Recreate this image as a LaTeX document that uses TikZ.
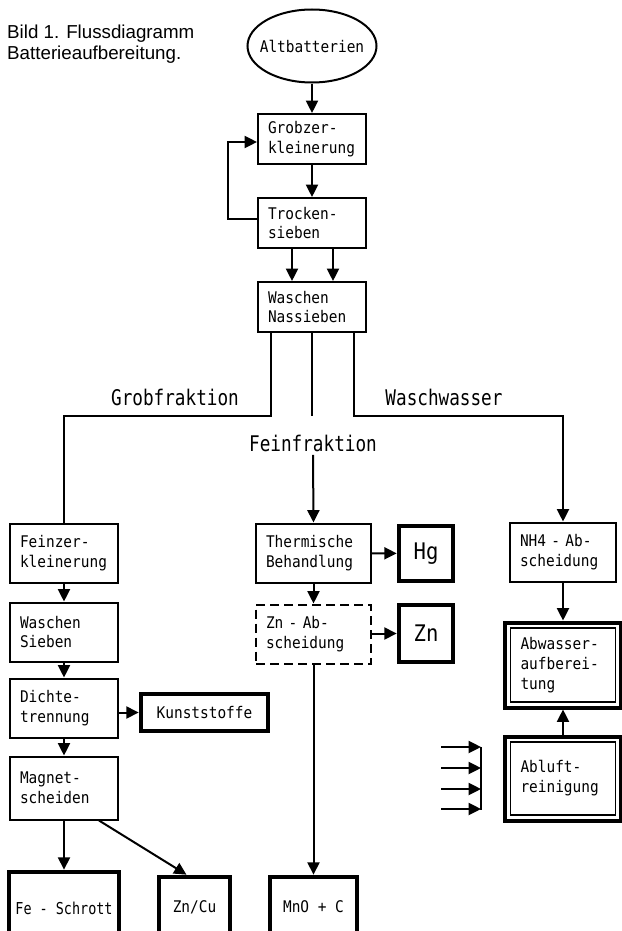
\documentclass[tikz,border=0pt]{standalone}
\usepackage{fontspec}
\usetikzlibrary{arrows.meta}
\usetikzlibrary{positioning}
\usetikzlibrary{shapes.geometric}
\newfontfamily\boxfont{DejaVu Sans Mono}[FakeStretch=0.9]
\newfontfamily\lblfont{DejaVu Sans Mono}[FakeStretch=0.82]
\newfontfamily\titlefont{Liberation Sans}

\begin{document}
\begin{tikzpicture}[x=0.3mm, y=-0.3mm,
  box/.style={draw, line width=0.6mm, align=left, text width=#1, inner xsep=3mm, inner ysep=0pt, minimum height=17.7mm, font=\boxfont\fontsize{13.7}{17}\selectfont},
  box/.default=26.4mm,
  res/.style={draw, line width=1.4mm, inner sep=0pt, align=center, font=\boxfont\fontsize{13.7}{17}\selectfont},
  dbl/.style={draw, line width=1.2mm, minimum width=34.8mm, inner sep=0pt},
  arr/.style={-{Triangle[length=3.7mm, width=3.6mm]}, line width=0.6mm},
  ln/.style={line width=0.6mm},
  lbl/.style={font=\lblfont\fontsize{18.4}{22}\selectfont, inner sep=1mm}
]

\useasboundingbox (0,0) rectangle (622,931);
\clip (0,0) rectangle (622,931);

%title
\node[anchor=north west, align=left, inner sep=0pt, font=\titlefont\fontsize{16}{18}\selectfont] (title) at (7,25) {Bild 1. Flussdiagramm\\Batterieaufbereitung.};

%top
\node[ellipse, draw, line width=0.6mm, minimum width=38.7mm, minimum height=21.9mm, inner sep=0pt, font=\boxfont\fontsize{13.7}{17}\selectfont] (alt) at (312,46) {\makebox[0pt]{Altbatterien}};
\node[box, minimum height=15mm] (grob) at (312,139) {Grobzer-\\kleinerung};
\node[box, minimum height=15mm] (trock) at (312,223) {Trocken-\\sieben};
\node[box, minimum height=15mm] (wasch) at (312,307) {Waschen\\Nassieben};

%left column
\node[box] (feinz) at (64,553) {Feinzer-\\kleinerung};
\node[box] (wsieb) at (64,632) {Waschen\\Sieben};
\node[box] (dichte) at (64,708) {Dichte-\\trennung};
\node[box, minimum height=18.9mm] (magnet) at (64,788) {Magnet-\\scheiden};

%middle column
\node[box=28.5mm] (therm) at (313.5,553) {Thermische\\Behandlung};
\node[box=28.5mm, dash pattern=on 2.7mm off 1.5mm] (znab) at (313.5,634) {Zn - Ab-\\scheidung};

%right column
\node[box=25.8mm] (nh4) at (563,552) {NH4 - Ab-\\scheidung};
\node[dbl, minimum height=25.5mm] (abw) at (563,665) {};
\node[box=25.5mm, line width=0.4mm, minimum height=22.2mm] (abwi) at (abw) {Abwasser-\\aufberei-\\tung};
\node[dbl, minimum height=25.2mm] (abl) at (563,778.5) {};
\node[box=25.5mm, line width=0.4mm, minimum height=21.9mm] (abli) at (abl) {Abluft-\\reinigung};

%products
\node[res, minimum width=16.2mm, minimum height=16.5mm, font=\boxfont\fontsize{19.5}{22}\selectfont] (hg) at (426,553.5) {Hg};
\node[res, minimum width=16.2mm, minimum height=17.1mm, font=\boxfont\fontsize{19.5}{22}\selectfont] (zn) at (426,633.5) {Zn};
\node[res, minimum width=38.1mm, minimum height=11.1mm] (kunst) at (204.5,712.5) {Kunststoffe};
\node[res, minimum width=33mm, minimum height=21.9mm, font=\lblfont\fontsize{14}{17}\selectfont] (fe) at (64,908.5) {Fe - Schrott};
\node[res, minimum width=21.3mm, minimum height=18mm] (zncu) at (194.5,907) {Zn/Cu};
\node[res, minimum width=26.1mm, minimum height=18mm] (mno) at (313.5,907) {MnO + C};

%labels
\node[lbl] (grobfr) at (175,397) {Grobfraktion};
\node[lbl] (waschw) at (444,397) {Waschwasser};
\node[lbl] (feinfr) at (313,443) {Feinfraktion};

%lines
\coordinate (gl) at (64,416);
\coordinate (gr) at (563,416);
\coordinate (bartop) at (481,747);
\coordinate (barbot) at (481,810);

\draw[arr] (alt) -- (grob);
\draw[arr] (grob) -- (trock);
\draw[arr] ([xshift=-6mm]trock.south) -- ([xshift=-6mm]wasch.north);
\draw[arr] ([xshift=6.3mm]trock.south) -- ([xshift=6.3mm]wasch.north);
\draw[arr] ([yshift=1.2mm]trock.west) -- ++(-29,0) |- ([yshift=-0.9mm]grob.west);

\draw[ln] ([xshift=-12.3mm]wasch.south) |- (gl) -- (feinz.north);
\draw[ln] (wasch.south) -- (wasch.south |- gl);
\draw[arr] ([xshift=12.6mm]wasch.south) |- (gr) -- (nh4.north);
\draw[arr] (feinfr.south) -- (therm.north);

\draw[arr] (feinz) -- (wsieb);
\draw[arr] (wsieb) -- (dichte);
\draw[arr] (dichte) -- (magnet);
\draw[arr] (dichte.east |- kunst) -- (kunst);
\draw[arr] (magnet) -- (fe);
\draw[arr] ([xshift=10.5mm]magnet.south) -- ([xshift=-2.4mm]zncu.north);

\draw[arr] (therm) -- (znab);
\draw[arr] (therm) -- (hg);
\draw[arr] (znab.east |- zn) -- (zn);
\draw[arr] (znab) -- (mno);

\draw[arr] (nh4) -- (abw);
\draw[arr] (abl) -- (abw);
\draw[ln] (bartop) -- (barbot);
\foreach \y in {747,768,789,809} {
  \coordinate (in\y) at (441,\y);
  \draw[arr] (in\y) -- (in\y -| bartop);
}

\end{tikzpicture}
\end{document}
